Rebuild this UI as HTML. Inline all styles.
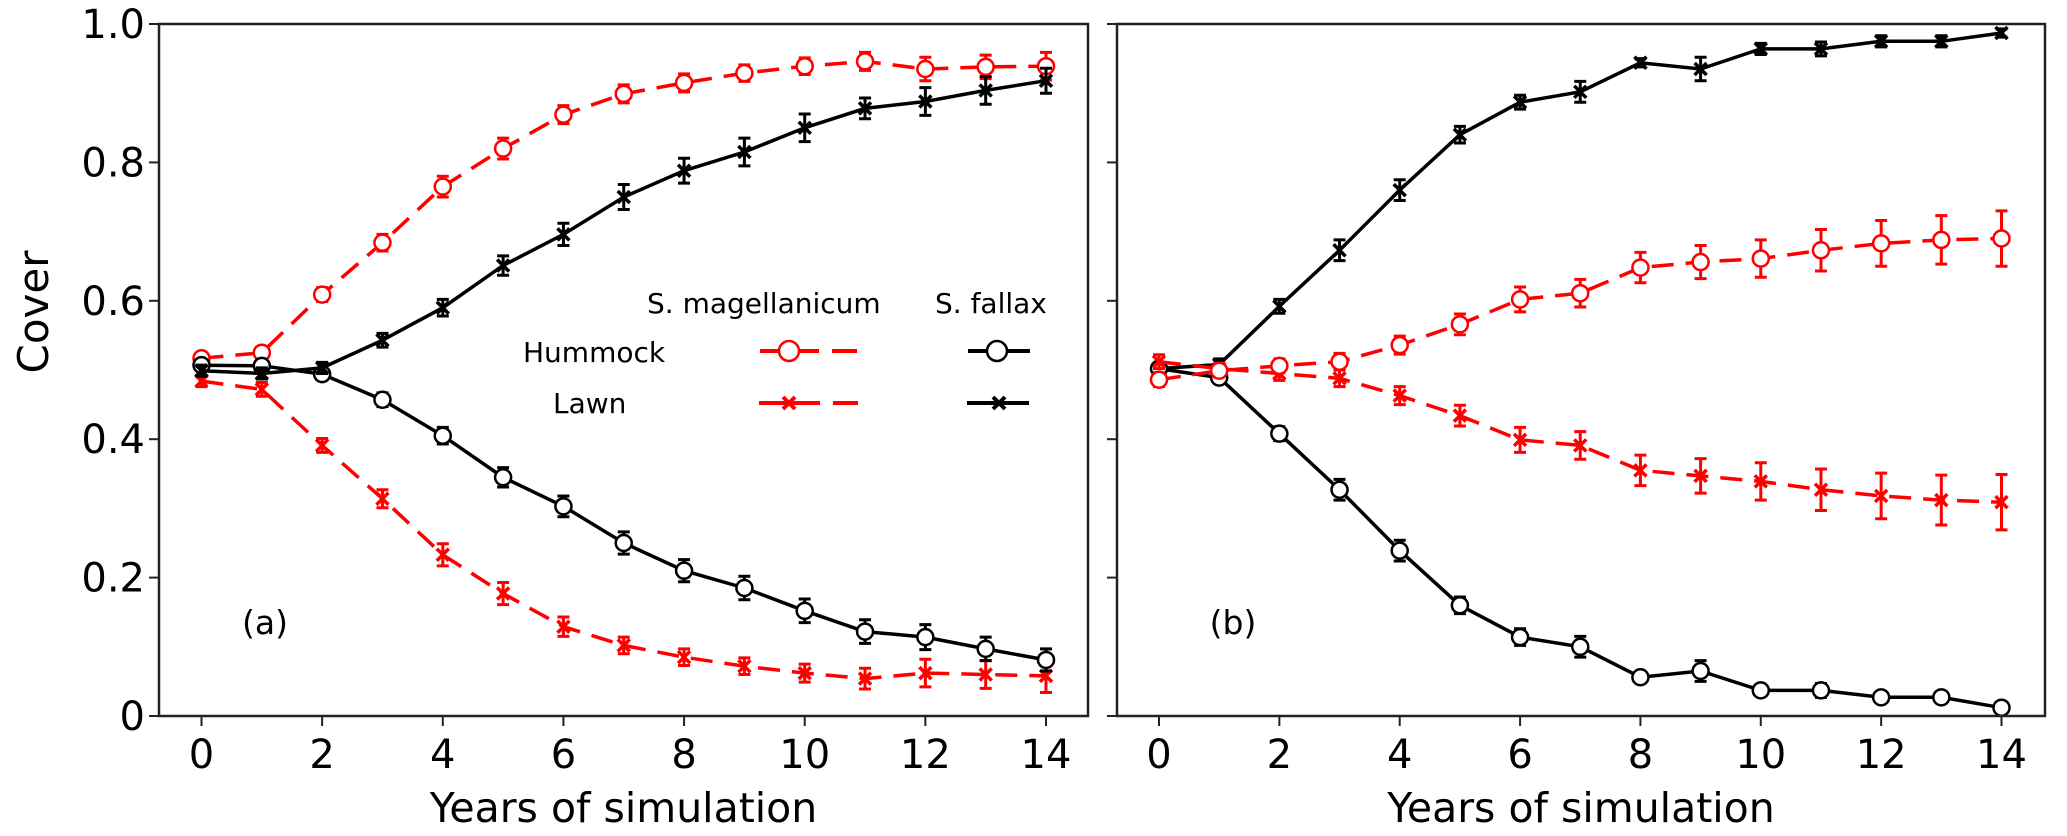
<!DOCTYPE html>
<html><head><meta charset="utf-8"><style>
html,body{margin:0;padding:0;background:#fff;}
svg{display:block;font-family:"DejaVu Sans","Liberation Sans",sans-serif;}
</style></head><body>
<svg id="chart" width="2067" height="836" viewBox="0 0 2067 836" xmlns="http://www.w3.org/2000/svg">
<rect width="2067" height="836" fill="#fff"/>
<g id="panels"></g>
<text transform="translate(48,312) rotate(-90)" text-anchor="middle" font-size="42">Cover</text>
<text x="265" y="634" text-anchor="middle" font-size="33">(a)</text>
<text x="1233" y="634" text-anchor="middle" font-size="33">(b)</text>
<g>
<text x="647" y="313" font-size="28">S. magellanicum</text>
<text x="935" y="313" font-size="28">S. fallax</text>
<text x="523" y="362" font-size="28">Hummock</text>
<text x="553" y="413" font-size="28">Lawn</text>
<g>
<line x1="760" y1="351" x2="819" y2="351" stroke="#ff0000" stroke-width="4"/><line x1="832" y1="351" x2="857" y2="351" stroke="#ff0000" stroke-width="4"/>
<circle cx="789" cy="351" r="10" fill="#fff" stroke="#ff0000" stroke-width="2.5"/></g>
<g>
<line x1="759" y1="403" x2="820" y2="403" stroke="#ff0000" stroke-width="4"/><line x1="833" y1="403" x2="858" y2="403" stroke="#ff0000" stroke-width="4"/>
<path d="M783,397 L795,409 M795,397 L783,409" stroke="#ff0000" stroke-width="4"/></g>
<g>
<line x1="968" y1="351" x2="1030" y2="351" stroke="#000" stroke-width="4"/>
<circle cx="997" cy="351" r="10" fill="#fff" stroke="#000" stroke-width="2.5"/></g>
<g>
<line x1="967" y1="403" x2="1029" y2="403" stroke="#000" stroke-width="4"/>
<path d="M993,397 L1005,409 M1005,397 L993,409" stroke="#000" stroke-width="4"/></g>
</g>
</svg>
<script>
const years = [0,1,2,3,4,5,6,7,8,9,10,11,12,13,14];
const yTicks = [0,0.2,0.4,0.6,0.8,1.0];
const yTickLabels = ["0","0.2","0.4","0.6","0.8","1.0"];
const xTicks = [0,2,4,6,8,10,12,14];
// Panel (a)
const aMagHummock = [0.517,0.525,0.609,0.684,0.765,0.820,0.869,0.899,0.915,0.929,0.939,0.946,0.935,0.938,0.939];
const aMagHummockErr = [0.008,0.008,0.01,0.012,0.015,0.015,0.013,0.013,0.013,0.012,0.012,0.013,0.017,0.017,0.02];
const aMagLawn = [0.484,0.472,0.391,0.314,0.233,0.177,0.129,0.102,0.085,0.072,0.062,0.054,0.062,0.06,0.058];
const aMagLawnErr = [0.008,0.01,0.01,0.013,0.016,0.016,0.014,0.012,0.012,0.012,0.013,0.015,0.02,0.02,0.024];
const aFalHummock = [0.507,0.506,0.494,0.457,0.405,0.345,0.303,0.25,0.21,0.185,0.152,0.122,0.114,0.097,0.081];
const aFalHummockErr = [0.008,0.008,0.008,0.01,0.012,0.014,0.015,0.016,0.016,0.017,0.017,0.017,0.018,0.017,0.016];
const aFalLawn = [0.499,0.495,0.503,0.543,0.590,0.651,0.696,0.75,0.788,0.815,0.85,0.878,0.888,0.904,0.918];
const aFalLawnErr = [0.008,0.008,0.008,0.01,0.012,0.014,0.016,0.018,0.018,0.02,0.02,0.015,0.02,0.02,0.018];
// Panel (b)
const bMagHummock = [0.486,0.499,0.506,0.512,0.536,0.566,0.602,0.611,0.648,0.656,0.661,0.673,0.683,0.688,0.690];
const bMagHummockErr = [0.01,0.008,0.01,0.012,0.013,0.015,0.018,0.02,0.022,0.024,0.027,0.03,0.033,0.035,0.04];
const bMagLawn = [0.512,0.502,0.495,0.488,0.463,0.434,0.399,0.391,0.355,0.347,0.339,0.327,0.318,0.312,0.309];
const bMagLawnErr = [0.01,0.008,0.01,0.012,0.013,0.015,0.018,0.02,0.022,0.025,0.027,0.03,0.033,0.036,0.04];
const bFalHummock = [0.502,0.489,0.408,0.327,0.239,0.160,0.114,0.100,0.056,0.065,0.037,0.037,0.027,0.027,0.012];
const bFalHummockErr = [0.006,0.008,0.01,0.015,0.015,0.012,0.012,0.015,0.008,0.015,0.006,0.01,0.006,0.008,0.006];
const bFalLawn = [0.502,0.508,0.592,0.673,0.760,0.840,0.887,0.902,0.944,0.935,0.964,0.964,0.975,0.975,0.987];
const bFalLawnErr = [0.006,0.008,0.01,0.015,0.015,0.012,0.01,0.015,0.006,0.017,0.008,0.01,0.008,0.008,0.006];

const NS="http://www.w3.org/2000/svg";
const root=document.getElementById('panels');
function mk(tag,attrs,parent){const e=document.createElementNS(NS,tag);for(const k in attrs)e.setAttribute(k,attrs[k]);parent.appendChild(e);return e;}

const panels=[
 {name:'a',left:159,right:1088,x0:201.5,x14:1046,labels:true,
  series:[[aMagHummock,aMagHummockErr,'#ff0000',true,'circle','mag-hummock'],[aMagLawn,aMagLawnErr,'#ff0000',true,'x','mag-lawn'],[aFalHummock,aFalHummockErr,'#000',false,'circle','fallax-hummock'],[aFalLawn,aFalLawnErr,'#000',false,'x','fallax-lawn']]},
 {name:'b',left:1117,right:2045,x0:1159,x14:2001.5,labels:false,
  series:[[bFalLawn,bFalLawnErr,'#000',false,'x','fallax-lawn'],[bFalHummock,bFalHummockErr,'#000',false,'circle','fallax-hummock'],[bMagLawn,bMagLawnErr,'#ff0000',true,'x','mag-lawn'],[bMagHummock,bMagHummockErr,'#ff0000',true,'circle','mag-hummock']]}
];
const plotTop=24, plotBottom=716;
function yS(v){return plotBottom-(plotBottom-plotTop)*v;}

panels.forEach(p=>{
 const xS=v=>p.x0+(p.x14-p.x0)*v/14;
 const g=mk('g',{},root);
 
 
 yTicks.forEach((t,i)=>{
  const tk=mk('line',{x1:p.left-10,x2:p.left,y1:yS(t),y2:yS(t),stroke:'#222','stroke-width':2},g);
  
  
  if(p.labels){
   const tl=mk('text',{x:p.left-14,y:yS(t)+14,'text-anchor':'end','font-size':40},g);
   
   
   tl.textContent=yTickLabels[i];
  }
 });
 xTicks.forEach(t=>{
  const tk=mk('line',{x1:xS(t),x2:xS(t),y1:plotBottom,y2:plotBottom+10,stroke:'#222','stroke-width':2},g);
  
  
  const tl=mk('text',{x:xS(t),y:768,'text-anchor':'middle','font-size':40},g);
  
  
  tl.textContent=String(t);
 });
 const xt=mk('text',{x:(p.left+p.right)/2,y:822,'text-anchor':'middle','font-size':41},g);
 
 
 xt.textContent='Years of simulation';
 p.series.forEach(s=>{
  const [vals,errs,col,dashed,mark,nm]=s;
  const sg=mk('g',{},g);
  
  
  const pts=years.map((y,i)=>xS(y).toFixed(1)+','+yS(vals[i]).toFixed(1)).join(' ');
  const pl=mk('polyline',{points:pts,fill:'none',stroke:col,'stroke-width':3.5},sg);
  if(dashed) pl.setAttribute('stroke-dasharray','22,12');
  
  
  years.forEach((y,i)=>{
   const cx=xS(y), cy=yS(vals[i]), e=(plotBottom-plotTop)*errs[i];
   const eb=mk('path',{d:`M${cx},${cy-e}V${cy+e}M${cx-6},${cy-e}H${cx+6}M${cx-6},${cy+e}H${cx+6}`,stroke:col,'stroke-width':3,fill:'none'},sg);
   
   
   let m;
   if(mark==='circle') m=mk('circle',{cx:cx,cy:cy,r:8,fill:'#fff',stroke:col,'stroke-width':2.5},sg);
   else m=mk('path',{d:`M${cx-6},${cy-6}L${cx+6},${cy+6}M${cx+6},${cy-6}L${cx-6},${cy+6}`,stroke:col,'stroke-width':3.5},sg);
   
   
  });
 });
 const fr=mk('rect',{x:p.left,y:plotTop,width:p.right-p.left,height:plotBottom-plotTop,fill:'none',stroke:'#222','stroke-width':2.5},g);
 
 
});
</script>
</body></html>
